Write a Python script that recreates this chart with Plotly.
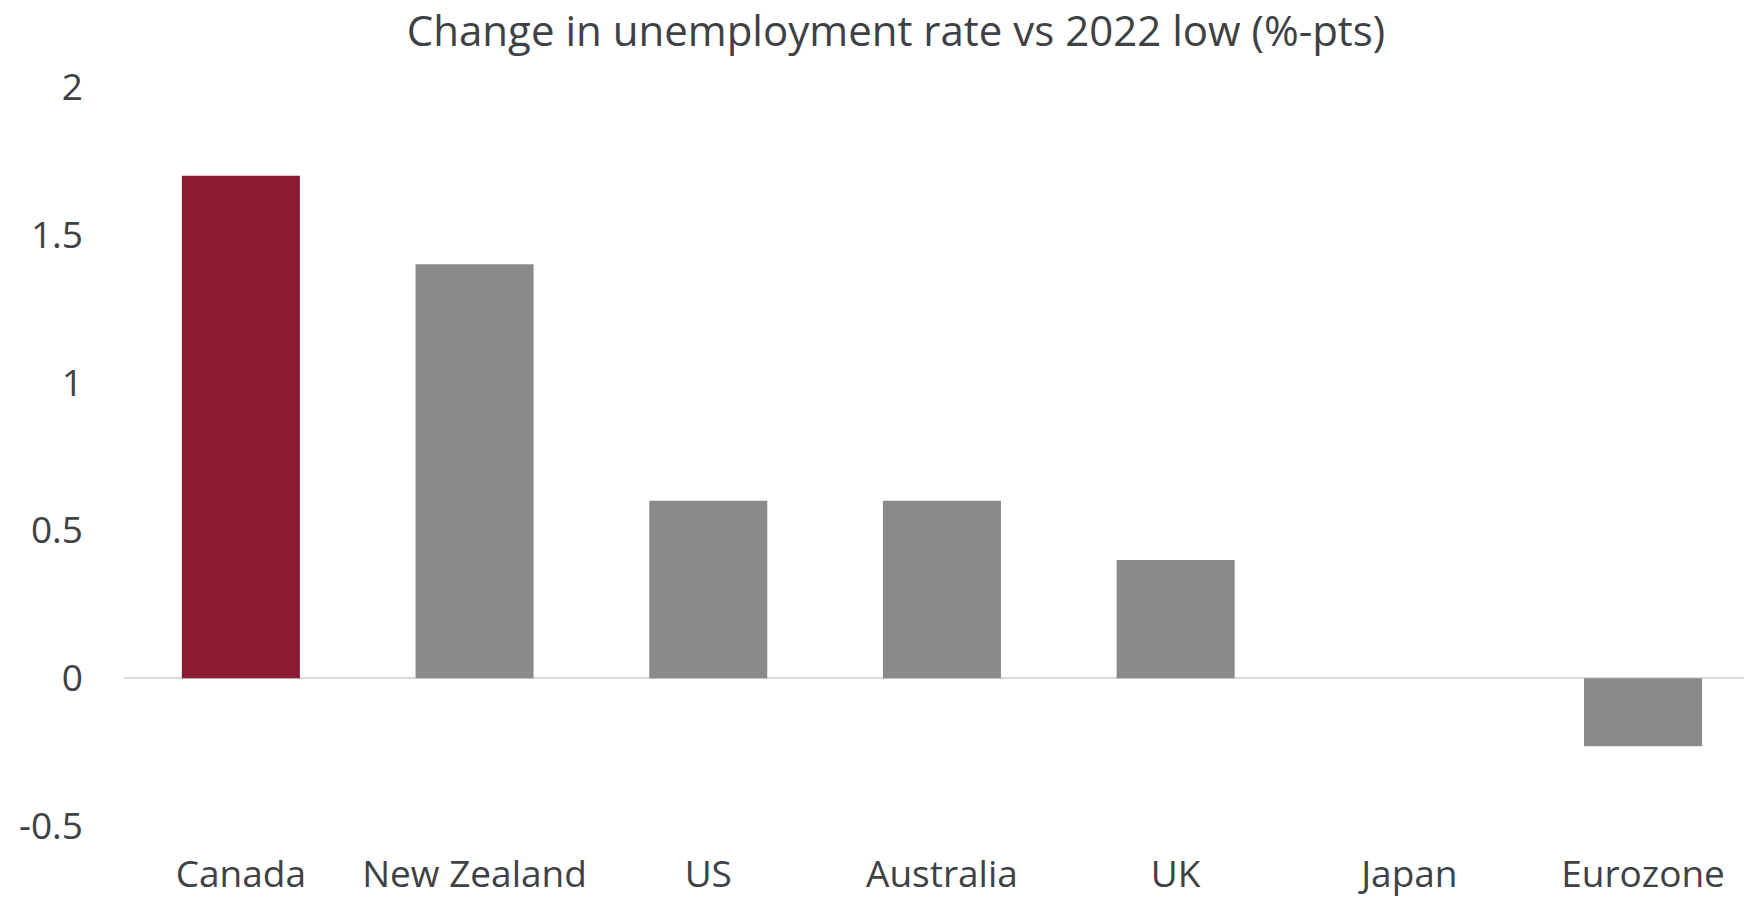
import plotly.graph_objects as go

# Chart data
countries = ["Canada", "New Zealand", "US", "Australia", "UK", "Japan", "Eurozone"]
change_pts = [1.7, 1.4, 0.6, 0.6, 0.4, 0.0, -0.23]
bar_colors = ["#8B1A33", "#898A8C", "#898A8C", "#898A8C", "#898A8C", "#898A8C", "#898A8C"]
y_ticks = [-0.5, 0, 0.5, 1, 1.5, 2]
y_tick_text = ["-0.5", "0", "0.5", "1", "1.5", "2"]

TEXT = "#3E4146"
FONT = "Open Sans"

fig = go.Figure(
    go.Bar(
        x=list(range(len(countries))),
        y=change_pts,
        marker=dict(color=bar_colors, line=dict(width=0)),
        hoverinfo="skip",
    )
)

fig.update_layout(
    width=1744,
    height=901,
    margin=dict(l=124, r=0, t=87, b=75, autoexpand=False),
    paper_bgcolor="white",
    plot_bgcolor="white",
    bargap=0.495,
    showlegend=False,
    font=dict(family=FONT, color=TEXT, size=37),
    title=dict(
        text="Change in unemployment rate vs 2022 low (%-pts)",
        x=896 / 1744,
        xanchor="center",
        y=1 - 31 / 901,
        yanchor="middle",
        font=dict(family=FONT, size=42, color=TEXT),
    ),
)

fig.update_xaxes(
    range=[-0.5, 6.432],
    tickmode="array",
    tickvals=list(range(len(countries))),
    ticktext=countries,
    showgrid=False,
    zeroline=False,
    showline=False,
    ticks="",
    automargin=False,
    ticklabelstandoff=23,
    tickfont=dict(family=FONT, size=37, color=TEXT),
)

fig.update_yaxes(
    range=[-0.5, 2],
    tickmode="array",
    tickvals=y_ticks,
    ticktext=y_tick_text,
    showgrid=False,
    zeroline=True,
    zerolinecolor="#D9D9D9",
    zerolinewidth=2,
    showline=False,
    ticks="",
    automargin=False,
    ticklabelstandoff=40,
    tickfont=dict(family=FONT, size=37, color=TEXT),
)

fig.write_html("out.html")
